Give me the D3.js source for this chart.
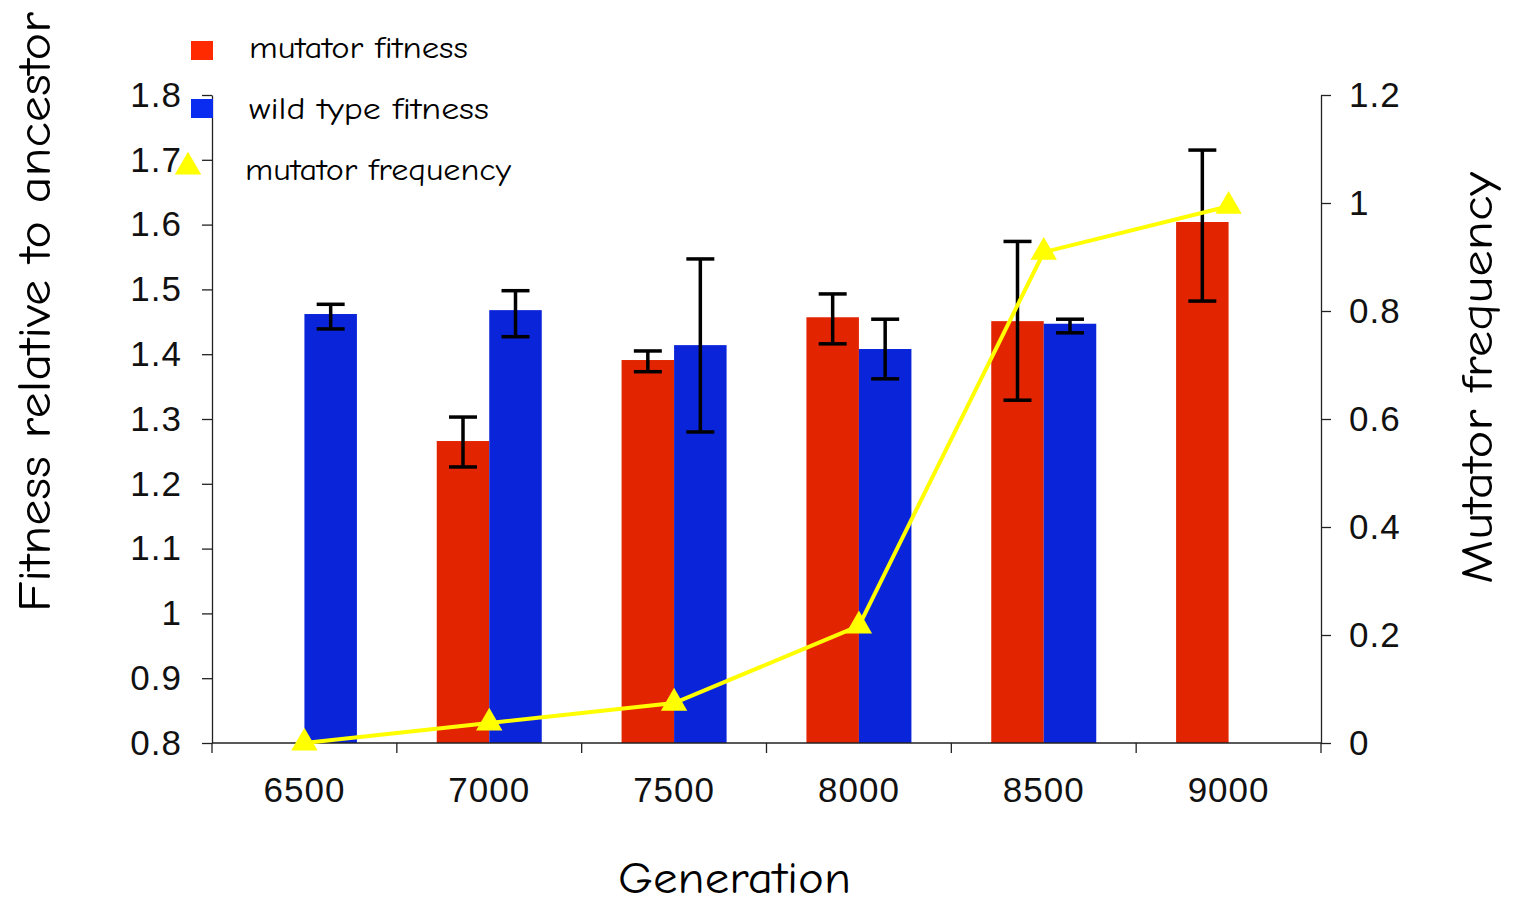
<!DOCTYPE html>
<html>
<head>
<meta charset="utf-8">
<script src="https://cdn.jsdelivr.net/npm/d3@7"></script>
<style>
  body { margin: 0; background: #fff; }
  .tick text { font-family: "Liberation Sans", Arial, sans-serif; }
  .title { font-family: "Comic Sans MS", "Comic Neue", "Noto Sans", sans-serif; fill: #000; }
</style>
</head>
<body>
<svg id="chart" width="1514" height="904"></svg>
<script>
const generations = ['6500', '7000', '7500', '8000', '8500', '9000'];

// fitness relative to ancestor (null = no bar)
const mutatorFitness = [null, 1.266, 1.391, 1.457, 1.451, 1.604];
const mutatorLow = [null, 1.226, 1.373, 1.416, 1.329, 1.482];
const mutatorHigh = [null, 1.303, 1.405, 1.493, 1.574, 1.715];

const wildFitness = [1.462, 1.468, 1.414, 1.408, 1.447, null];
const wildLow = [1.439, 1.427, 1.280, 1.362, 1.433, null];
const wildHigh = [1.477, 1.498, 1.547, 1.454, 1.454, null];

const mutatorFrequency = [0, 0.037, 0.074, 0.217, 0.909, 0.994];

const leftTicks = [0.8, 0.9, 1, 1.1, 1.2, 1.3, 1.4, 1.5, 1.6, 1.7, 1.8];
const leftTickLabels = ['0.8', '0.9', '1', '1.1', '1.2', '1.3', '1.4', '1.5', '1.6', '1.7', '1.8'];
const rightTicks = [0, 0.2, 0.4, 0.6, 0.8, 1, 1.2];
const rightTickLabels = ['0', '0.2', '0.4', '0.6', '0.8', '1', '1.2'];

const svg = d3.select('#chart');
const plotLeft = 212, plotRight = 1321, plotTop = 95, plotBottom = 743;
const barW = 52.5;
const redColor = '#e32400';
const blueColor = '#0a24da';
const yellow = '#ffff00';

const xs = d3.scaleBand().domain(generations).range([plotLeft, plotRight]).padding(0);
const ys = d3.scaleLinear().domain([0.8, 1.8]).range([plotBottom, plotTop]);
const ysRight = d3.scaleLinear().domain([0, 1.2]).range([plotBottom, plotTop]);
const center = (g) => xs(g) + xs.bandwidth() / 2;

const bars = (values, low, high, offset, color) => {
    const rows = generations.map((g, i) => ({ g, v: values[i], lo: low[i], hi: high[i] })).filter(d => d.v != null);
    svg.append('g')
        .selectAll('rect')
        .data(rows)
        .enter()
        .append('rect')
        .attr('x', d => center(d.g) + offset)
        .attr('width', barW)
        .attr('y', d => ys(d.v))
        .attr('height', d => ys(0.8) - ys(d.v))
        .attr('fill', color);

    const eb = svg.append('g').attr('stroke', '#000').attr('stroke-width', 3.5);
    rows.forEach(d => {
        const cx = center(d.g) + offset + barW / 2;
        eb.append('line').attr('x1', cx).attr('x2', cx).attr('y1', ys(d.hi)).attr('y2', ys(d.lo));
        eb.append('line').attr('x1', cx - 14).attr('x2', cx + 14).attr('y1', ys(d.hi)).attr('y2', ys(d.hi));
        eb.append('line').attr('x1', cx - 14).attr('x2', cx + 14).attr('y1', ys(d.lo)).attr('y2', ys(d.lo));
    });
};

bars(mutatorFitness, mutatorLow, mutatorHigh, -barW, redColor);
bars(wildFitness, wildLow, wildHigh, 0, blueColor);

// axes
const styleAxis = (g) => {
    g.select('.domain').attr('stroke', '#222').attr('stroke-width', 1.3);
    g.selectAll('.tick line').attr('stroke', '#222').attr('stroke-width', 1.3);
    g.selectAll('.tick text').attr('font-size', 35).attr('fill', '#111').attr('letter-spacing', 1);
};

svg.append('g')
    .attr('transform', `translate(${plotLeft},0)`)
    .call(d3.axisLeft(ys).tickValues(leftTicks).tickFormat((d, i) => leftTickLabels[i]).tickSize(10).tickSizeOuter(0).tickPadding(20))
    .call(styleAxis);

svg.append('g')
    .attr('transform', `translate(${plotRight},0)`)
    .call(d3.axisRight(ysRight).tickValues(rightTicks).tickFormat((d, i) => rightTickLabels[i]).tickSize(10).tickSizeOuter(0).tickPadding(18))
    .call(styleAxis);

const xAxis = svg.append('g')
    .attr('transform', `translate(0,${plotBottom})`)
    .call(d3.axisBottom(xs).tickSize(0).tickPadding(34))
    .call(styleAxis);
xAxis.select('.domain').attr('d', `M${plotLeft},0H${plotRight}`);
// category boundary ticks
xAxis.selectAll('.sep')
    .data(d3.range(generations.length + 1))
    .enter()
    .append('line')
    .attr('x1', i => plotLeft + i * xs.bandwidth())
    .attr('x2', i => plotLeft + i * xs.bandwidth())
    .attr('y1', 0).attr('y2', 10)
    .attr('stroke', '#222').attr('stroke-width', 1.3);

// mutator frequency line
const line = d3.line().x((d, i) => center(generations[i])).y(d => ysRight(d));
svg.append('path')
    .datum(mutatorFrequency)
    .attr('d', line)
    .attr('fill', 'none')
    .attr('stroke', yellow)
    .attr('stroke-width', 4);

const tri = d3.symbol().type(d3.symbolTriangle).size(300);
svg.append('g')
    .selectAll('path')
    .data(mutatorFrequency)
    .enter()
    .append('path')
    .attr('d', tri)
    .attr('transform', (d, i) => `translate(${center(generations[i])},${ysRight(d)})`)
    .attr('fill', yellow);

// axis titles
svg.append('text')
    .attr('class', 'title')
    .attr('x', 618).attr('y', 893)
    .attr('font-size', 44)
    .attr('textLength', 233)
    .attr('lengthAdjust', 'spacingAndGlyphs')
    .text('Generation');

svg.append('g')
    .attr('transform', 'translate(50, 612)')
    .append('text')
    .attr('class', 'title')
    .attr('transform', 'rotate(-90)')
    .attr('font-size', 46)
    .attr('textLength', 600)
    .attr('lengthAdjust', 'spacingAndGlyphs')
    .text('Fitness relative to ancestor');

svg.append('g')
    .attr('transform', 'translate(1492, 584)')
    .append('text')
    .attr('class', 'title')
    .attr('transform', 'rotate(-90)')
    .attr('font-size', 44)
    .attr('textLength', 412)
    .attr('lengthAdjust', 'spacingAndGlyphs')
    .text('Mutator frequency');

// legend
const legend = svg.append('g');
const legendText = (x, y, len, label) => legend.append('text')
    .attr('class', 'title')
    .attr('x', x).attr('y', y)
    .attr('font-size', 30)
    .attr('textLength', len)
    .attr('lengthAdjust', 'spacingAndGlyphs')
    .text(label);
legend.append('rect').attr('x', 191).attr('y', 41).attr('width', 22).attr('height', 19).attr('fill', '#ff2a00');
legendText(249, 58, 219, 'mutator fitness');
legend.append('rect').attr('x', 191).attr('y', 99).attr('width', 22).attr('height', 19).attr('fill', '#0a2cf0');
legendText(249, 119, 240, 'wild type fitness');
legend.append('path').attr('d', tri).attr('transform', 'translate(188,167)').attr('fill', yellow);
legendText(245, 180, 266, 'mutator frequency');
</script>
</body>
</html>
